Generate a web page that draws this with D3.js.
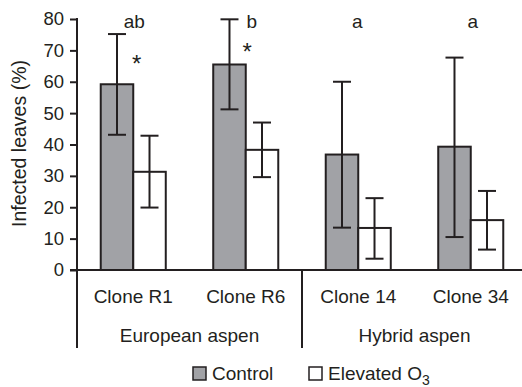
<!DOCTYPE html>
<html>
<head>
<meta charset="utf-8">
<script src="https://cdn.jsdelivr.net/npm/d3@7/dist/d3.min.js"></script>
<style>
  html, body { margin: 0; padding: 0; background: #fff; }
  svg { display: block; }
  text { font-family: "Liberation Sans", Arial, sans-serif; fill: #231f20; }
</style>
</head>
<body>
<svg id="chart" width="522" height="387"></svg>
<script>
// ---- data ----
const clones = ["Clone R1", "Clone R6", "Clone 14", "Clone 34"];
const groups = ["European aspen", "Hybrid aspen"];
const groupOf = ["European aspen", "European aspen", "Hybrid aspen", "Hybrid aspen"];
const series = ["Control", "Elevated O3"];
const controlMean = [59.2, 65.5, 36.8, 39.3];
const controlLow  = [43.1, 51.2, 13.5, 10.5];
const controlHigh = [75.2, 79.9, 60.0, 67.7];
const elevatedMean = [31.3, 38.3, 13.4, 15.9];
const elevatedLow  = [19.9, 29.6, 3.6, 6.5];
const elevatedHigh = [42.8, 47.0, 22.9, 25.2];
const letters = ["ab", "b", "a", "a"];
const stars = ["*", "*", "", ""];
const starLevel = [67.7, 71.4, 0, 0];
const yTicks = [0, 10, 20, 30, 40, 50, 60, 70, 80];

// ---- drawing ----
const svg = d3.select("#chart");
const ink = "#231f20";
const grey = "#a1a2a6";
const fs = 19;

const y = d3.scaleLinear().domain([0, 80]).range([270, 19]);
const x0 = d3.scaleBand().domain(clones).range([77, 527]).padding(0);
const x1 = d3.scaleBand().domain(series).range([0, x0.bandwidth()]).paddingInner(0).paddingOuter(0.73);

const rows = clones.map((c, i) => ({
  clone: c,
  vals: [
    { s: series[0], m: controlMean[i], lo: controlLow[i], hi: controlHigh[i] },
    { s: series[1], m: elevatedMean[i], lo: elevatedLow[i], hi: elevatedHigh[i] }
  ]
}));

// bars
const g = svg.append("g");
rows.forEach(r => {
  r.vals.forEach(v => {
    const bx = x0(r.clone) + x1(v.s);
    g.append("rect")
      .attr("x", bx).attr("y", y(v.m))
      .attr("width", x1.bandwidth()).attr("height", y(0) - y(v.m))
      .attr("fill", v.s === "Control" ? grey : "#fff")
      .attr("stroke", ink).attr("stroke-width", 2);
  });
});
// error bars
const cap = 9;
rows.forEach(r => {
  r.vals.forEach(v => {
    const cx = x0(r.clone) + x1(v.s) + x1.bandwidth() / 2;
    g.append("line").attr("x1", cx).attr("x2", cx).attr("y1", y(v.lo)).attr("y2", y(v.hi))
      .attr("stroke", ink).attr("stroke-width", 2);
    [v.lo, v.hi].forEach(e => {
      g.append("line").attr("x1", cx - cap).attr("x2", cx + cap).attr("y1", y(e)).attr("y2", y(e))
        .attr("stroke", ink).attr("stroke-width", 2);
    });
  });
});

// y axis
const yAxis = d3.axisLeft(y).tickValues(yTicks).tickSize(7).tickPadding(6);
const ga = svg.append("g").attr("transform", "translate(77,0)").call(yAxis);
ga.select(".domain").remove();
ga.selectAll(".tick line").attr("stroke", ink).attr("stroke-width", 2);
ga.selectAll(".tick text").attr("font-size", 18.5).attr("font-family", "Liberation Sans, Arial, sans-serif").attr("fill", ink);
svg.append("line").attr("x1", 77).attr("x2", 77).attr("y1", y(80) - 1).attr("y2", 348)
  .attr("stroke", ink).attr("stroke-width", 2);
// baseline
svg.append("line").attr("x1", 70).attr("x2", 522).attr("y1", y(0)).attr("y2", y(0))
  .attr("stroke", ink).attr("stroke-width", 2);

// y title
svg.append("text")
  .attr("transform", `translate(26,143.5) rotate(-90)`)
  .attr("text-anchor", "middle").attr("font-size", 19.5)
  .text("Infected leaves (%)");

// category labels
clones.forEach(c => {
  svg.append("text").attr("x", x0(c) + x0.bandwidth() / 2).attr("y", 303)
    .attr("text-anchor", "middle").attr("font-size", fs).text(c);
});
// group labels and separator
groups.forEach(gname => {
  const members = clones.filter((c, i) => groupOf[i] === gname);
  const left = x0(members[0]);
  const right = x0(members[members.length - 1]) + x0.bandwidth();
  svg.append("text").attr("x", (left + right) / 2).attr("y", 342)
    .attr("text-anchor", "middle").attr("font-size", fs).text(gname);
});
const sepX = x0(clones[2]);
svg.append("line").attr("x1", sepX).attr("x2", sepX).attr("y1", y(0)).attr("y2", 348)
  .attr("stroke", ink).attr("stroke-width", 2);

// letters and stars
const letterDx = [1, 6, -1, 2];
const starDx = [3.5, 1.5, 0, 0];
clones.forEach((c, i) => {
  svg.append("text").attr("x", x0(c) + x0.bandwidth() / 2 + letterDx[i]).attr("y", 28)
    .attr("text-anchor", "middle").attr("font-size", fs).text(letters[i]);
  if (stars[i]) {
    svg.append("text").attr("x", x0(c) + x0.bandwidth() / 2 + starDx[i]).attr("y", y(starLevel[i]) + 14)
      .attr("text-anchor", "middle").attr("font-size", 24).text(stars[i]);
  }
});

// legend
const leg = [
  { s: series[0], x: 193, fill: grey },
  { s: series[1], x: 309, fill: "#fff" }
];
leg.forEach(l => {
  svg.append("rect").attr("x", l.x).attr("y", 367).attr("width", 13).attr("height", 13)
    .attr("fill", l.fill).attr("stroke", ink).attr("stroke-width", 1.5);
});
svg.append("text").attr("x", 212).attr("y", 380).attr("font-size", fs).text("Control");
const t2 = svg.append("text").attr("x", 328).attr("y", 380).attr("font-size", fs);
t2.append("tspan").text("Elevated O");
t2.append("tspan").attr("font-size", 14).attr("dy", 4.5).text("3");
</script>
</body>
</html>
